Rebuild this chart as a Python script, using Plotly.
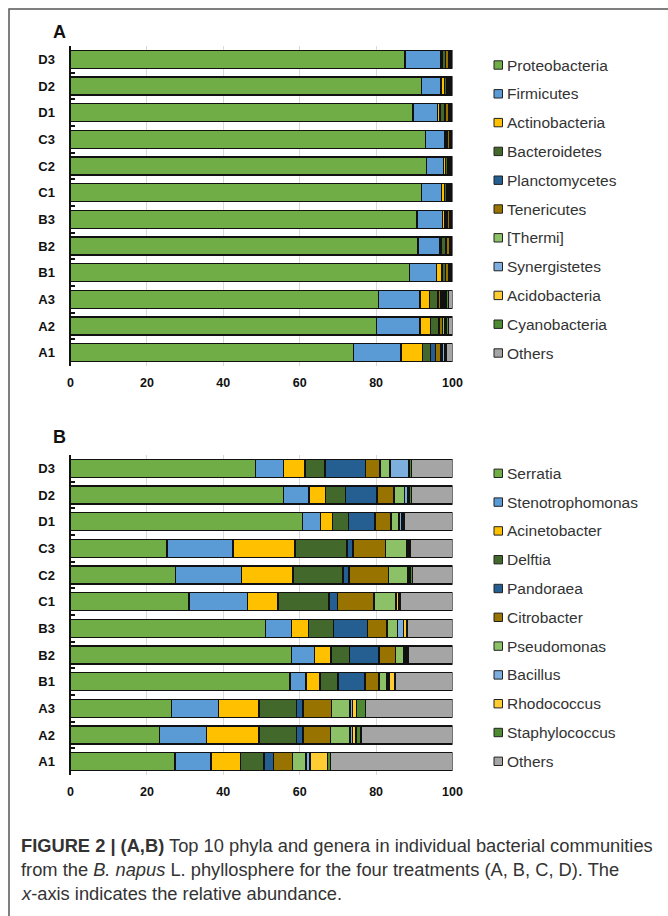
import plotly.graph_objects as go

W, H = 668, 916

samples = ["A1", "A2", "A3", "B1", "B2", "B3", "C1", "C2", "C3", "D1", "D2", "D3"]

phyla = ["Proteobacteria", "Firmicutes", "Actinobacteria", "Bacteroidetes", "Planctomycetes",
         "Tenericutes", "[Thermi]", "Synergistetes", "Acidobacteria", "Cyanobacteria", "Others"]
genera = ["Serratia", "Stenotrophomonas", "Acinetobacter", "Delftia", "Pandoraea",
          "Citrobacter", "Pseudomonas", "Bacillus", "Rhodococcus", "Staphylococcus", "Others"]

# relative abundance (%) per sample, in the order of `samples`
proteobacteria = [74.1, 80.1, 80.6, 88.8, 91.0, 90.7, 91.9, 93.2, 93.0, 89.7, 91.9, 87.6]
firmicutes     = [12.4, 11.4, 10.9, 7.0, 5.6, 6.7, 5.2, 4.4, 4.9, 6.3, 5.1, 9.4]
actinobacteria = [5.7, 2.8, 2.4, 1.4, 0.4, 0.6, 0.8, 0.5, 0.2, 0.7, 0.9, 0.3]
bacteroidetes  = [2.1, 2.0, 2.1, 0.9, 1.2, 0.6, 0.7, 0.7, 0.4, 1.2, 0.5, 0.8]
planctomycetes = [1.3, 0.3, 0.4, 0.1, 0.1, 0.1, 0.1, 0.1, 0.1, 0.2, 0.2, 0.1]
tenericutes    = [1.4, 0.8, 0.6, 0.8, 0.9, 0.5, 0.3, 0.3, 0.7, 1.0, 0.5, 0.9]
thermi         = [0.4, 0.5, 0.5, 0.2, 0.2, 0.2, 0.2, 0.2, 0.1, 0.2, 0.2, 0.1]
synergistetes  = [0.5, 0.3, 0.4, 0.1, 0.1, 0.1, 0.1, 0.1, 0.1, 0.1, 0.1, 0.1]
acidobacteria  = [0.3, 0.3, 0.4, 0.1, 0.1, 0.1, 0.2, 0.1, 0.1, 0.1, 0.2, 0.1]
cyanobacteria  = [0.3, 0.5, 0.7, 0.4, 0.2, 0.3, 0.3, 0.2, 0.2, 0.3, 0.2, 0.3]
others_phyla   = [1.5, 1.0, 1.0, 0.2, 0.2, 0.1, 0.2, 0.2, 0.2, 0.2, 0.2, 0.3]

serratia         = [27.4, 23.3, 26.4, 57.5, 57.9, 51.1, 31.0, 27.5, 25.3, 60.7, 55.7, 48.4]
stenotrophomonas = [9.4, 12.3, 12.4, 4.1, 5.9, 6.8, 15.4, 17.3, 17.2, 4.7, 6.7, 7.3]
acinetobacter    = [7.7, 13.7, 10.5, 3.7, 4.4, 4.4, 7.9, 13.4, 16.3, 3.2, 4.4, 5.7]
delftia          = [6.2, 9.8, 9.8, 4.7, 4.9, 6.6, 13.4, 13.1, 13.6, 4.2, 5.2, 5.2]
pandoraea        = [2.5, 1.8, 1.8, 7.1, 7.7, 8.9, 2.2, 1.6, 1.6, 6.9, 8.2, 10.7]
citrobacter      = [4.9, 7.1, 7.4, 3.7, 4.2, 5.0, 9.6, 10.3, 8.5, 4.2, 4.5, 3.7]
pseudomonas      = [3.6, 5.2, 4.9, 2.1, 2.3, 2.8, 5.5, 5.2, 5.5, 2.1, 2.8, 2.6]
bacillus         = [1.0, 0.6, 0.6, 0.5, 0.3, 1.6, 0.3, 0.3, 0.3, 0.8, 0.8, 4.9]
rhodococcus      = [4.5, 0.9, 1.0, 1.4, 0.5, 0.8, 0.6, 0.3, 0.2, 0.3, 0.5, 0.3]
staphylococcus   = [0.8, 1.3, 2.5, 0.1, 0.3, 0.2, 0.4, 0.5, 0.4, 0.4, 0.5, 0.4]
others_genera    = [32.0, 24.0, 22.7, 15.1, 11.6, 11.8, 13.7, 10.5, 11.1, 12.5, 10.7, 10.8]

colors = ["#70AD47", "#5B9BD5", "#FFC000", "#43682B", "#255E91", "#997300",
          "#8CC168", "#7CAFDD", "#FFCD33", "#4E8A32", "#A5A5A5"]

phyla_values = [proteobacteria, firmicutes, actinobacteria, bacteroidetes, planctomycetes,
                tenericutes, thermi, synergistetes, acidobacteria, cyanobacteria, others_phyla]
genera_values = [serratia, stenotrophomonas, acinetobacter, delftia, pandoraea,
                 citrobacter, pseudomonas, bacillus, rhodococcus, staphylococcus, others_genera]

x_ticks = [0, 20, 40, 60, 80, 100]


def px(x):
    return x / W


def py(y):
    return 1 - y / H


fig = go.Figure()

for names, values, xa, ya in [(phyla, phyla_values, "x", "y"), (genera, genera_values, "x2", "y2")]:
    for name, vals, col in zip(names, values, colors):
        fig.add_trace(go.Bar(
            y=samples, x=vals, name=name, orientation="h",
            marker=dict(color=col, line=dict(color="#111111", width=1.4)),
            xaxis=xa, yaxis=ya, showlegend=False,
        ))

x_tick_font = dict(family="Liberation Sans, Arial, sans-serif", size=12.5, color="#111111")
y_tick_font = dict(family="Liberation Sans, Arial, sans-serif", size=13, color="#111111")

xaxis_common = dict(
    range=[0, 100], tickvals=x_ticks, ticktext=[f"<b>{v}</b>" for v in x_ticks],
    showgrid=True, gridcolor="#D9D9D9", gridwidth=1, zeroline=False,
    showline=False, ticks="", tickfont=x_tick_font, ticklabelstandoff=7,
    fixedrange=True, automargin=False,
)
yaxis_common = dict(
    categoryorder="array", categoryarray=samples,
    ticktext=[f"<b>{s}</b>" for s in samples], tickvals=samples,
    showline=True, linecolor="#111111", linewidth=2,
    ticks="inside", ticklen=4, tickwidth=2, tickcolor="#111111", tickson="boundaries",
    showgrid=False, tickfont=y_tick_font, ticklabelstandoff=11,
    fixedrange=True, automargin=False,
)

# panel positions (paper coordinates over the whole page, margins are zero)
xa_dom = [px(70.5), px(452.5)]
fig.update_layout(
    xaxis=dict(domain=xa_dom, anchor="y", **xaxis_common),
    yaxis=dict(domain=[py(366), py(46)], anchor="x", range=[-0.5, 11.5], **yaxis_common),
    xaxis2=dict(domain=xa_dom, anchor="y2", **xaxis_common),
    yaxis2=dict(domain=[py(775), py(455)], anchor="x2", range=[-0.5, 11.5], **yaxis_common),
)

shapes = []
annotations = []

# page frame
shapes.append(dict(type="rect", xref="paper", yref="paper", x0=px(9), x1=px(W + 20),
                   y0=py(H + 20), y1=py(9), line=dict(color="#555555", width=1.5),
                   fillcolor="rgba(0,0,0,0)", layer="below"))

# panel letters
for letter, yy in [("A", 32), ("B", 437)]:
    annotations.append(dict(text=f"<b>{letter}</b>", x=px(51), y=py(yy), xref="paper", yref="paper",
                            xanchor="left", yanchor="middle", showarrow=False,
                            font=dict(family="Liberation Sans, Arial, sans-serif", size=18, color="#111111")))

# legends
legend_font = dict(family="Liberation Sans, Arial, sans-serif", size=15.5, color="#333333")
for names, y_first in [(phyla, 65), (genera, 473.3)]:
    for i, (name, col) in enumerate(zip(names, colors)):
        yc = y_first + i * 28.8
        shapes.append(dict(type="rect", xref="paper", yref="paper",
                           x0=px(494), x1=px(502.5), y0=py(yc + 4.2), y1=py(yc - 4.2),
                           fillcolor=col, line=dict(color="#222222", width=1)))
        annotations.append(dict(text=name, x=px(504.5), y=py(yc), xref="paper", yref="paper",
                                xanchor="left", yanchor="middle", showarrow=False, font=legend_font))

# caption
cap_font = dict(family="Liberation Sans Narrow, Arial Narrow, Liberation Sans, sans-serif",
                size=18.3, color="#333333")
caption = [
    "<b>FIGURE 2 | (A,B)</b> Top 10 phyla and genera in individual bacterial communities",
    "from the <i>B. napus</i> L. phyllosphere for the four treatments (A, B, C, D). The",
    "<i>x</i>-axis indicates the relative abundance.",
]
for i, line in enumerate(caption):
    annotations.append(dict(text=line, x=px(19), y=py(845 + i * 24), xref="paper", yref="paper",
                            xanchor="left", yanchor="middle", showarrow=False, font=cap_font))

fig.update_layout(
    width=W, height=H, margin=dict(l=0, r=0, t=0, b=0, autoexpand=False),
    paper_bgcolor="white", plot_bgcolor="white",
    barmode="stack", bargap=0.33,
    shapes=shapes, annotations=annotations, showlegend=False,
)

fig.write_html("out.html", config={"displayModeBar": False})
